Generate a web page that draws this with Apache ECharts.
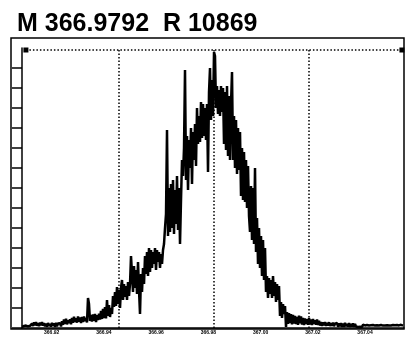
<!DOCTYPE html>
<html><head><meta charset="utf-8">
<script src="https://cdn.jsdelivr.net/npm/echarts@6/dist/echarts.min.js"></script>
<style>html,body{margin:0;padding:0;background:#fff}#c{width:411px;height:338px}</style>
</head><body><div id="c"></div>
<script>
const titleText = 'M 366.9792  R 10869';
const mzStart = 366.9057;   // first profile sample m/z
const mzStep = 0.000383;    // profile sampling step
const intensity = [
  0.6,0.2,1,0.4,1.2,0.3,0.8,0.2,1.1,0.5,
  2.2,1,2.8,1.3,3,1.1,2.5,0.9,2.7,1.4,
  2.9,1.2,2.4,0.8,2.2,0.6,2.5,1,2.1,0.7,
  2.6,1.1,2.3,0.5,2.6,0.9,2.2,1.2,2.4,0.8,
  3.4,1.6,4.2,2,4.6,1.8,3.8,2.4,4.4,1.9,
  5,2.6,5.6,3,4.8,2.7,5.8,3.2,5.2,2.5,
  5.5,3,5.7,3.4,5,2.8,15,12,3.5,6.5,
  3.2,6.8,3.6,7,3,6.4,4,7.2,4.2,8.5,
  4.5,9.6,5,10.5,4.8,14,6,11.5,5.5,10,
  7,16,10.5,18,11,20.5,12,19,10,20,
  24,14,22,15.5,21,14,23,16,22,36,
  35,18,31,20,29,17,33,19,7,27,
  18,30,22,36,27,38,26,40,28,39,
  30,38,32,40,29,39,33,38,30,37,
  32,39,42,50,57,99,46,70,48,72,
  50,74,47,69,52,76,49,70,42,64,
  84,76,90,129,74,96,69,94,80,100,
  72,98,84,102,81,110,92,106,93,113,
  95,112,96,110,94,112,78,118,130,104,
  124,106,138,136,110,121,107,119,106,121,
  108,120,92,118,89,121,86,116,84,112,
  128,84,106,80,104,77,100,79,98,66,
  90,64,88,63,84,60,81,56,48,71,
  44,70,42,80,38,55,32,50,30,46,
  26,44,24,40,18,26,15,25,17,24,
  15,26,16,23,13,22,14,21,6,13,
  5,12,7,11,0.5,8,2,7.5,2.5,7,
  1.8,6.5,2.2,6,2,5.5,1.6,6.2,2.4,5.8,
  1.7,5,1.5,4.8,2,4.4,1.6,5,1.8,4.2,
  1.5,4.5,2,3.8,1.6,4.2,1.5,3.6,1.2,3,
  1,2.8,1.3,3,1,2.6,1.2,2.9,1,2.4,
  1.1,2.7,0.9,2.2,1.2,2.5,0.6,2.3,0.8,2.4,
  0.6,2.2,0.5,2.6,0.9,2.1,0.7,2.4,0.6,2,
  0.8,2.3,0.5,2.1,0.7,1.5,0.5,1.4,0.6,1.5,
  0.5,1.6,0.7,1.3,0.5,1.5,0.6,1.3,0.5,1.4,
  0.6,1.5,0.7,1.2,0.5,1.4,0.6,1.3,0.8,1.5,
  0.6,1.2,0.5,1.3,0.7,1.4,0.6,1.2,0.5,1.3,
  0.7,1.5,0.6,1.4,0.8,1.5,0.6,1.3,0.7,1.6,
  1,1.2
];
const xMin = 366.9057, xMax = 367.0520;
const xTicks = [366.92, 366.94, 366.96, 366.98, 367.00, 367.02, 367.04];
const yTicks = [0,10,20,30,40,50,60,70,80,90,100,110,120,130];
const guideMz = [366.9428, 366.9792, 367.0156];
const peakMz = 366.9792;
const refLevel = 139;
const peakMarkLevel = 143.5;

const data = intensity.map((v, i) => [mzStart + i * mzStep, v]);

const chart = echarts.init(document.getElementById('c'), null, {renderer: 'canvas'});
chart.setOption({
  animation: false,
  backgroundColor: '#fff',
  title: {
    text: titleText, left: 12, top: 7,
    textStyle: {fontFamily: 'Liberation Sans, Arial, sans-serif', fontSize: 25, fontWeight: 'bold', color: '#000'}
  },
  graphic: [{
    type: 'rect', shape: {x: 11, y: 38, width: 393, height: 291},
    style: {fill: 'none', stroke: '#000', lineWidth: 1.5}, silent: true, z: 0
  }],
  grid: {left: 22, right: 7, top: 48, bottom: 10},
  xAxis: {
    type: 'value', min: xMin, max: xMax,
    axisLine: {lineStyle: {color: '#000', width: 1.5}},
    axisTick: {show: false},
    splitLine: {show: false},
    axisLabel: {customValues: xTicks, fontSize: 5, fontWeight: 'bold', color: '#000', margin: 2, align: 'right',
      formatter: v => v.toFixed(2)}
  },
  yAxis: {
    type: 'value', min: 0, max: 140, interval: 10,
    axisLine: {show: true, lineStyle: {color: '#000', width: 1.5}},
    axisTick: {show: true, length: 10, customValues: yTicks, lineStyle: {color: '#000', width: 1.5}},
    axisLabel: {show: false},
    splitLine: {show: false}
  },
  series: [{
    type: 'line', data: data, showSymbol: false, symbol: 'none',
    lineStyle: {color: '#000', width: 2.5},
    markLine: {
      silent: true, precision: 6, symbol: ['none', 'none'], label: {show: false},
      lineStyle: {color: '#000', width: 1.5, type: [1.5, 2]},
      data: guideMz.map(x => ({xAxis: x})).concat([[
        {coord: [xMin + 0.0015, refLevel], symbol: 'rect', symbolSize: 5},
        {coord: [xMax - 0.0008, refLevel], symbol: 'rect', symbolSize: 5}
      ]])
    },
    markPoint: {
      silent: true, symbol: 'rect', symbolSize: [5, 4], label: {show: false},
      itemStyle: {color: '#000'},
      data: [{coord: [peakMz, peakMarkLevel]}]
    }
  }]
});
</script></body></html>
